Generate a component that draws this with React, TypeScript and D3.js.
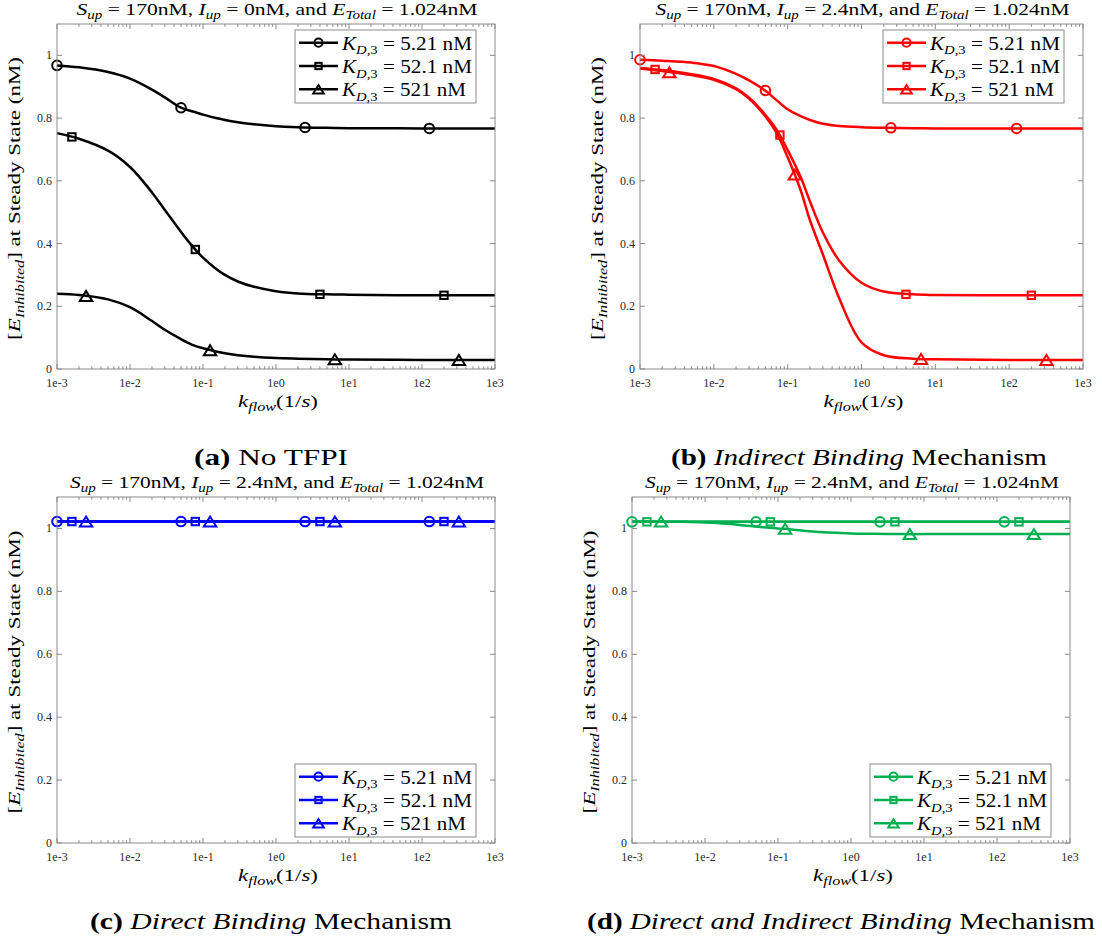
import React from 'react';
import * as d3 from 'd3';

// ---------- data ----------
const kGrid = [0.001, 0.002, 0.005, 0.01, 0.02, 0.03, 0.05, 0.07, 0.1, 0.15, 0.2, 0.3, 0.5, 1, 2, 5, 10, 100, 1000];

const kdLabels = ['5.21', '52.1', '521'];

// panel (a) No TFPI
const aCircle = [0.968, 0.962, 0.947, 0.926, 0.891, 0.866, 0.833, 0.822, 0.811, 0.800, 0.794, 0.787, 0.780, 0.774, 0.771, 0.769, 0.768, 0.767, 0.767];
const aSquare = [0.752, 0.734, 0.696, 0.644, 0.563, 0.507, 0.437, 0.394, 0.355, 0.320, 0.300, 0.279, 0.262, 0.248, 0.241, 0.238, 0.237, 0.235, 0.235];
const aTriangle = [0.240, 0.236, 0.222, 0.197, 0.153, 0.125, 0.095, 0.078, 0.066, 0.056, 0.050, 0.044, 0.039, 0.035, 0.033, 0.031, 0.030, 0.029, 0.029];

// panel (b) Indirect binding
const bCircle = [0.986, 0.983, 0.977, 0.966, 0.941, 0.920, 0.887, 0.858, 0.828, 0.806, 0.794, 0.782, 0.775, 0.771, 0.769, 0.768, 0.767, 0.767, 0.767];
const bSquare = [0.960, 0.953, 0.940, 0.925, 0.895, 0.865, 0.810, 0.765, 0.698, 0.612, 0.535, 0.435, 0.345, 0.275, 0.247, 0.238, 0.236, 0.235, 0.235];
const bTriangle = [0.958, 0.950, 0.937, 0.922, 0.892, 0.862, 0.805, 0.755, 0.675, 0.570, 0.475, 0.365, 0.225, 0.085, 0.044, 0.033, 0.031, 0.029, 0.029];

// panel (c) Direct binding
const cCircle = [1.022, 1.022, 1.022, 1.022, 1.022, 1.022, 1.022, 1.022, 1.022, 1.022, 1.022, 1.022, 1.022, 1.022, 1.022, 1.022, 1.022, 1.022, 1.022];
const cSquare = [1.022, 1.022, 1.022, 1.022, 1.022, 1.022, 1.022, 1.022, 1.022, 1.022, 1.022, 1.022, 1.022, 1.022, 1.022, 1.022, 1.022, 1.022, 1.022];
const cTriangle = [1.022, 1.022, 1.022, 1.022, 1.022, 1.022, 1.022, 1.022, 1.022, 1.022, 1.022, 1.022, 1.022, 1.022, 1.022, 1.022, 1.022, 1.022, 1.022];

// panel (d) Direct and indirect binding
const dCircle = [1.021, 1.021, 1.021, 1.021, 1.021, 1.021, 1.021, 1.021, 1.021, 1.021, 1.021, 1.021, 1.021, 1.021, 1.021, 1.021, 1.021, 1.021, 1.021];
const dSquare = [1.021, 1.021, 1.021, 1.021, 1.021, 1.021, 1.021, 1.021, 1.021, 1.021, 1.021, 1.021, 1.021, 1.021, 1.021, 1.021, 1.021, 1.021, 1.021];
const dTriangle = [1.022, 1.022, 1.021, 1.019, 1.015, 1.011, 1.006, 1.003, 1.000, 0.997, 0.994, 0.990, 0.987, 0.984, 0.983, 0.982, 0.982, 0.982, 0.982];

// marker positions
const mkXCircle = [0.001, 0.05, 2.5, 126];
const mkXSquare = [0.0016, 0.0785, 4.0, 200];
const mkXTriangle = [0.0025, 0.125, 6.4, 320];

const aCircleMk = [0.968, 0.833, 0.770, 0.767];
const aSquareMk = [0.740, 0.381, 0.238, 0.235];
const aTriangleMk = [0.233, 0.060, 0.031, 0.029];
const bCircleMk = [0.986, 0.888, 0.769, 0.767];
const bSquareMk = [0.955, 0.746, 0.238, 0.235];
const bTriangleMk = [0.946, 0.620, 0.032, 0.029];
const cCircleMk = [1.022, 1.022, 1.022, 1.022];
const cSquareMk = [1.022, 1.022, 1.022, 1.022];
const cTriangleMk = [1.022, 1.022, 1.022, 1.022];
const dCircleMk = [1.021, 1.021, 1.021, 1.021];
const dSquareMk = [1.021, 1.021, 1.021, 1.021];
const dTriangleMk = [1.022, 0.999, 0.982, 0.982];

const xTickVals = [1e-3, 1e-2, 1e-1, 1e0, 1e1, 1e2, 1e3];
const xTickLabels = ['1e-3', '1e-2', '1e-1', '1e0', '1e1', '1e2', '1e3'];
const yTickVals = [0, 0.2, 0.4, 0.6, 0.8, 1];
const yTickLabels = ['0', '0.2', '0.4', '0.6', '0.8', '1'];

// ---------- styling ----------
const FONT = "'Liberation Serif', 'Times New Roman', serif";
const AX = '#8a8a8a';
const TXT = '#2a2a2a';
const LW = 2.5;

type Shape = 'circle' | 'square' | 'triangle';
const shapes: Shape[] = ['circle', 'square', 'triangle'];

function Marker({ shape, x, y, color, s = 1 }: { shape: Shape; x: number; y: number; color: string; s?: number }) {
  if (shape === 'circle') return <circle cx={x} cy={y} r={4.8 * s} fill="none" stroke={color} strokeWidth={2} />;
  if (shape === 'square') {
    const h = 3.7 * s;
    return <rect x={x - h} y={y - h} width={2 * h} height={2 * h} fill="none" stroke={color} strokeWidth={2} />;
  }
  const hw = 6.2 * s, hh = 5 * s;
  return <path d={`M${x - hw},${y + hh}L${x + hw},${y + hh}L${x},${y - hh}Z`} fill="none" stroke={color} strokeWidth={2} strokeLinejoin="miter" />;
}

function TitleText({ cx, y, iup, w }: { cx: number; y: number; iup: string; w: number }) {
  const sub = 11.5;
  const dy = 3.5;
  return (
    <text x={cx} y={y} textAnchor="middle" fontFamily={FONT} fontSize={16.5} fill="#000" textLength={w} lengthAdjust="spacingAndGlyphs">
      <tspan fontStyle="italic">S</tspan>
      <tspan fontSize={sub} fontStyle="italic" dy={dy}>up</tspan>
      <tspan dy={-dy}>{' = 170nM, '}</tspan>
      <tspan fontStyle="italic">I</tspan>
      <tspan fontSize={sub} fontStyle="italic" dy={dy}>up</tspan>
      <tspan dy={-dy}>{` = ${iup}nM, and `}</tspan>
      <tspan fontStyle="italic">E</tspan>
      <tspan fontSize={sub} fontStyle="italic" dy={dy}>Total</tspan>
      <tspan dy={-dy}>{' = 1.024nM'}</tspan>
    </text>
  );
}

type Panel = {
  left: number; right: number; top: number; bottom: number;
  color: string;
  curves: number[][];
  marks: number[][];
  iup: string;
  titleW: number;
  legend: { x: number; y: number };
  caption: React.ReactNode;
  capX: number; capW: number; capY: number;
};

const mkX = [mkXCircle, mkXSquare, mkXTriangle];

function PanelView({ p }: { p: Panel }) {
  const xs = d3.scaleLog().domain([1e-3, 1e3]).range([p.left, p.right]);
  const ys = d3.scaleLinear().domain([0, 1.1]).range([p.bottom, p.top]);
  const line = d3.line<[number, number]>().x(d => xs(d[0])).y(d => ys(d[1])).curve(d3.curveCatmullRom.alpha(0.5));
  const minor: number[] = [];
  for (let e = -3; e < 3; e++) for (let m = 2; m <= 9; m++) minor.push(m * Math.pow(10, e));
  const cx = (p.left + p.right) / 2;
  const cy = (p.top + p.bottom) / 2;
  const legW = 181, legH = 73;
  return (
    <g>
      {/* series */}
      {p.curves.map((vals, i) => (
        <g key={i}>
          <path d={line(kGrid.map((k, j) => [k, vals[j]] as [number, number])) || ''} fill="none" stroke={p.color} strokeWidth={LW} strokeLinejoin="round" />
          {p.marks[i].map((v, j) => (
            <Marker key={j} shape={shapes[i]} x={xs(mkX[i][j])} y={ys(v)} color={p.color} />
          ))}
        </g>
      ))}
      {/* box */}
      <rect x={p.left} y={p.top} width={p.right - p.left} height={p.bottom - p.top} fill="none" stroke={AX} strokeWidth={1} />
      {/* x ticks */}
      {xTickVals.map((v, i) => (
        <g key={'xt' + i}>
          <line x1={xs(v)} x2={xs(v)} y1={p.bottom} y2={p.bottom - 5} stroke={AX} />
          <line x1={xs(v)} x2={xs(v)} y1={p.top} y2={p.top + 5} stroke={AX} />
          <text x={xs(v)} y={p.bottom + 18} textAnchor="middle" fontFamily={FONT} fontSize={12} fill={TXT}>{xTickLabels[i]}</text>
        </g>
      ))}
      {minor.map((v, i) => (
        <g key={'mt' + i}>
          <line x1={xs(v)} x2={xs(v)} y1={p.bottom} y2={p.bottom - 2.8} stroke={AX} />
          <line x1={xs(v)} x2={xs(v)} y1={p.top} y2={p.top + 2.8} stroke={AX} />
        </g>
      ))}
      {/* y ticks */}
      {yTickVals.map((v, i) => (
        <g key={'yt' + i}>
          <line x1={p.left} x2={p.left + 5} y1={ys(v)} y2={ys(v)} stroke={AX} />
          <line x1={p.right} x2={p.right - 5} y1={ys(v)} y2={ys(v)} stroke={AX} />
          <text x={p.left - 5} y={ys(v) + 4} textAnchor="end" fontFamily={FONT} fontSize={12} fill={TXT}>{yTickLabels[i]}</text>
        </g>
      ))}
      {/* title */}
      <TitleText cx={cx + 1} y={p.top - 9} iup={p.iup} w={p.titleW} />
      {/* x label */}
      <text x={cx + 2} y={p.bottom + 38} textAnchor="middle" fontFamily={FONT} fontSize={17} fill="#000" textLength={80} lengthAdjust="spacingAndGlyphs">
        <tspan fontStyle="italic">k</tspan>
        <tspan fontStyle="italic" fontSize={12} dy={3.5}>flow</tspan>
        <tspan dy={-3.5}>(1/</tspan>
        <tspan fontStyle="italic">s</tspan>
        <tspan>)</tspan>
      </text>
      {/* y label */}
      <text transform={`translate(${p.left - 37},${cy + 2}) rotate(-90)`} textAnchor="middle" fontFamily={FONT} fontSize={17} fill="#000" textLength={283} lengthAdjust="spacingAndGlyphs">
        <tspan>[</tspan>
        <tspan fontStyle="italic">E</tspan>
        <tspan fontStyle="italic" fontSize={12} dy={4}>Inhibited</tspan>
        <tspan dy={-4}>] at Steady State (nM)</tspan>
      </text>
      {/* legend */}
      <g>
        <rect x={p.legend.x} y={p.legend.y} width={legW} height={legH} fill="#fff" stroke={AX} strokeWidth={1} />
        {kdLabels.map((kd, i) => {
          const ry = p.legend.y + 12.7 + i * 23.3;
          return (
            <g key={'lg' + i}>
              <line x1={p.legend.x + 4} x2={p.legend.x + 43} y1={ry} y2={ry} stroke={p.color} strokeWidth={LW} />
              <Marker shape={shapes[i]} x={p.legend.x + 23.5} y={ry} color={p.color} s={0.85} />
              <text x={p.legend.x + 47} y={ry + 7} fontFamily={FONT} fontSize={19.5} fill="#000" textLength={i === 2 ? 124 : 130} lengthAdjust="spacingAndGlyphs">
                <tspan fontStyle="italic">K</tspan>
                <tspan fontSize={13.5} dy={4.5}><tspan fontStyle="italic">D</tspan>,3</tspan>
                <tspan dy={-4.5}>{` = ${kd} nM`}</tspan>
              </text>
            </g>
          );
        })}
      </g>
      {/* caption */}
      <text x={p.capX} y={p.capY} textAnchor="middle" fontFamily={FONT} fontSize={24} fill="#000" textLength={p.capW} lengthAdjust="spacingAndGlyphs">
        {p.caption}
      </text>
    </g>
  );
}

const panels: Panel[] = [
  {
    left: 57, right: 495, top: 24, bottom: 369, color: '#000000',
    curves: [aCircle, aSquare, aTriangle], marks: [aCircleMk, aSquareMk, aTriangleMk],
    iup: '0', titleW: 401, legend: { x: 295, y: 30 },
    caption: <><tspan fontWeight="bold">(a)</tspan><tspan>{' No TFPI'}</tspan></>, capX: 271, capW: 154, capY: 465,
  },
  {
    left: 640, right: 1083, top: 24, bottom: 369, color: '#ff0000',
    curves: [bCircle, bSquare, bTriangle], marks: [bCircleMk, bSquareMk, bTriangleMk],
    iup: '2.4', titleW: 414, legend: { x: 883, y: 30 },
    caption: <><tspan fontWeight="bold">(b)</tspan><tspan fontStyle="italic">{' Indirect Binding'}</tspan><tspan>{' Mechanism'}</tspan></>, capX: 859, capW: 376, capY: 465,
  },
  {
    left: 57, right: 495, top: 497, bottom: 843, color: '#0000ff',
    curves: [cCircle, cSquare, cTriangle], marks: [cCircleMk, cSquareMk, cTriangleMk],
    iup: '2.4', titleW: 414, legend: { x: 295, y: 764 },
    caption: <><tspan fontWeight="bold">(c)</tspan><tspan fontStyle="italic">{' Direct Binding'}</tspan><tspan>{' Mechanism'}</tspan></>, capX: 271, capW: 362, capY: 929,
  },
  {
    left: 632, right: 1070, top: 497, bottom: 843, color: '#00b050',
    curves: [dCircle, dSquare, dTriangle], marks: [dCircleMk, dSquareMk, dTriangleMk],
    iup: '2.4', titleW: 414, legend: { x: 870, y: 764 },
    caption: <><tspan fontWeight="bold">(d)</tspan><tspan fontStyle="italic">{' Direct and Indirect Binding'}</tspan><tspan>{' Mechanism'}</tspan></>, capX: 841, capW: 508, capY: 929,
  },
];

export default function App() {
  return (
    <svg width={1102} height={939} viewBox="0 0 1102 939" style={{ position: 'absolute', left: 0, top: 0, background: '#fff', display: 'block' }}>
      <rect x={0} y={0} width={1102} height={939} fill="#fff" />
      {panels.map((p, i) => <PanelView key={i} p={p} />)}
    </svg>
  );
}
